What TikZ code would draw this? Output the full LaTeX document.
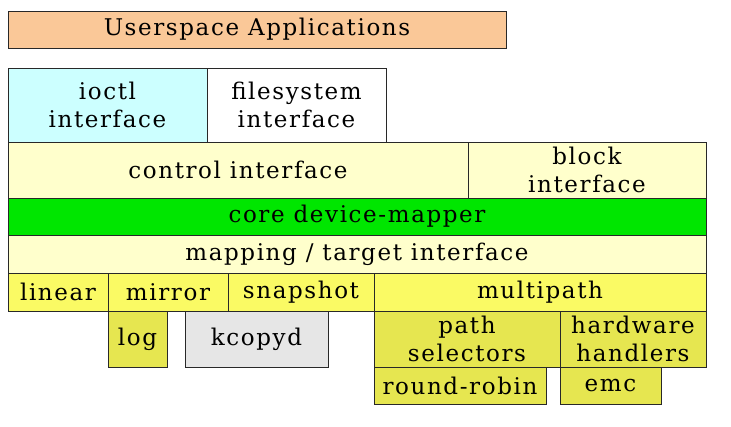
\documentclass[tikz,border=0pt]{standalone}
\usepackage{fontspec}
\setmainfont[LetterSpace=7]{DejaVu Serif}
\definecolor{cOrange}{RGB}{250,200,152}
\definecolor{cCyan}{RGB}{204,255,255}
\definecolor{cPale}{RGB}{255,255,204}
\definecolor{cGreen}{RGB}{0,230,0}
\definecolor{cYellow}{RGB}{250,250,100}
\definecolor{cDark}{RGB}{230,230,80}
\definecolor{cGray}{RGB}{230,230,230}
\definecolor{cLine}{RGB}{40,40,40}
\tikzset{
  layer/.style={draw=cLine, line width=1pt, inner sep=0pt, outer sep=0pt, anchor=north west,
    align=center, font=\fontsize{23}{28}\selectfont}
}
\newcommand{\layerbox}[7]{%
  \node[layer, fill=#6, minimum width=#4pt-#2pt, minimum height=#5pt-#3pt] (#1) at (#2,#3) {#7};}
\begin{document}
\begin{tikzpicture}[x=1pt,y=-1pt]
\useasboundingbox[fill=white] (0,0) rectangle (731,426);
\layerbox{user}{8}{11}{506}{48}{cOrange}{Userspace Applications}
\layerbox{ioctl}{8}{68}{207}{142}{cCyan}{ioctl\\interface}
\layerbox{fs}{207}{68}{386}{142}{white}{filesystem\\interface}
\layerbox{ctrl}{8}{142}{468}{198}{cPale}{control interface}
\layerbox{block}{468}{142}{706}{198}{cPale}{block\\interface}
\layerbox{core}{8}{198}{706}{235}{cGreen}{core device-mapper}
\layerbox{map}{8}{235}{706}{273}{cPale}{mapping / target interface}
\layerbox{linear}{8}{273}{108}{311}{cYellow}{linear}
\layerbox{mirror}{108}{273}{228}{311}{cYellow}{mirror}
\layerbox{snap}{228}{273}{374}{311}{cYellow}{snapshot}
\layerbox{multi}{374}{273}{706}{311}{cYellow}{multipath}
\layerbox{log}{108}{311}{167}{367}{cDark}{log}
\layerbox{kcopyd}{185}{311}{328}{367}{cGray}{kcopyd}
\layerbox{pathsel}{374}{311}{560}{367}{cDark}{path\\selectors}
\layerbox{hw}{560}{311}{706}{367}{cDark}{hardware\\handlers}
\layerbox{rr}{374}{367}{546}{404}{cDark}{round-robin}
\layerbox{emc}{560}{367}{661}{404}{cDark}{emc}
\end{tikzpicture}
\end{document}
